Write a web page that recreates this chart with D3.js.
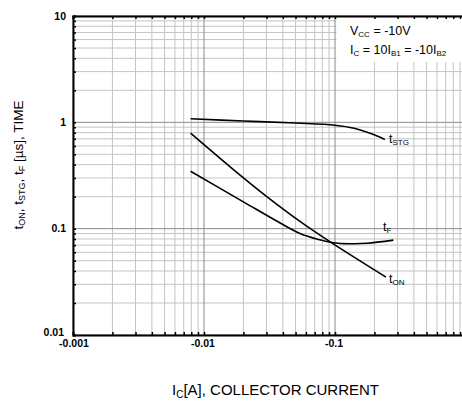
<!DOCTYPE html>
<html>
<head>
<meta charset="utf-8">
<script src="https://cdn.jsdelivr.net/npm/d3@7/dist/d3.min.js"></script>
<style>
  html, body { margin: 0; padding: 0; background: #fff; }
  svg { display: block; font-family: Arial, "Liberation Sans", Helvetica, sans-serif; }
</style>
</head>
<body>
<svg id="chart" width="462" height="401"></svg>
<script>
// Collector current magnitude |Ic| [A] (axis labelled negative)
const xTickValues = [0.001, 0.01, 0.1];
const xTickLabels = ["-0.001", "-0.01", "-0.1"];
const yTickValues = [10, 1, 0.1, 0.01];
const yTickLabels = ["10", "1", "0.1", "0.01"];

// Curves: [|Ic| A, time µs]
const tSTG = [[0.0079, 1.08], [0.02, 1.03], [0.05, 0.985], [0.1, 0.94], [0.14, 0.88], [0.19, 0.78], [0.24, 0.69]];
const tON  = [[0.0079, 0.79], [0.016, 0.377], [0.03, 0.201], [0.055, 0.115], [0.0944, 0.0735], [0.245, 0.035]];
const tF   = [[0.0079, 0.347], [0.0206, 0.175], [0.035, 0.12], [0.054, 0.09], [0.075, 0.079], [0.097, 0.0738], [0.13, 0.0722], [0.175, 0.0728], [0.279, 0.078]];

const svg = d3.select("#chart");
const pL = 73, pT = 16, pB = 335, pR = 466;

const x = d3.scaleLog().domain([0.001, 1]).range([pL, pR]);
const y = d3.scaleLog().domain([0.01, 10]).range([pB, pT]);

function minors(lo, hi) {
  const out = [];
  for (let e = Math.round(Math.log10(lo)); e < Math.round(Math.log10(hi)); e++) {
    for (let m = 1; m <= 9; m++) out.push(m * Math.pow(10, e));
  }
  out.push(hi);
  return out;
}
const xGrid = minors(0.001, 1);
const yGrid = minors(0.01, 10);
const isMajor = v => Math.abs(Math.log10(v) - Math.round(Math.log10(v))) < 1e-9;

const g = svg.append("g");
g.selectAll(".vx").data(xGrid.filter(v => !isMajor(v))).join("line")
  .attr("x1", d => x(d)).attr("x2", d => x(d)).attr("y1", pT).attr("y2", pB)
  .attr("stroke", "#c4c4c4").attr("stroke-width", 1);
g.selectAll(".hy").data(yGrid.filter(v => !isMajor(v))).join("line")
  .attr("y1", d => y(d)).attr("y2", d => y(d)).attr("x1", pL).attr("x2", pR)
  .attr("stroke", "#c4c4c4").attr("stroke-width", 1);
// white box behind the annotation
g.append("rect").attr("x", x(0.1) + 1.5).attr("y", pT).attr("width", 140).attr("height", 46).attr("fill", "#fff");
g.selectAll(".vX").data(xGrid.filter(v => isMajor(v))).join("line")
  .attr("x1", d => x(d)).attr("x2", d => x(d)).attr("y1", pT).attr("y2", pB)
  .attr("stroke", "#8a8a8a").attr("stroke-width", 1);
g.selectAll(".hY").data(yGrid.filter(v => isMajor(v))).join("line")
  .attr("y1", d => y(d)).attr("y2", d => y(d)).attr("x1", pL).attr("x2", pR)
  .attr("stroke", "#8a8a8a").attr("stroke-width", 1);

const axB = d3.axisBottom(x).tickValues(xGrid).tickSize(-3).tickFormat("");
const axT = d3.axisTop(x).tickValues(xGrid).tickSize(-3).tickFormat("");
const axL = d3.axisLeft(y).tickValues(yGrid).tickSize(-3).tickFormat("");
function styleAxis(sel) {
  sel.select(".domain").attr("stroke", "#000").attr("stroke-width", 2);
  sel.selectAll(".tick line").attr("stroke", "#000").attr("stroke-width", 1.5);
}
svg.append("g").attr("transform", `translate(0,${pB})`).call(axB).call(styleAxis);
svg.append("g").attr("transform", `translate(0,${pT})`).call(axT).call(styleAxis);
svg.append("g").attr("transform", `translate(${pL},0)`).call(axL).call(styleAxis);

svg.append("g").selectAll("text").data(xTickValues).join("text")
  .attr("x", (d, i) => x(d) + (i === 0 ? 1 : -1)).attr("y", 347)
  .attr("text-anchor", "middle").attr("font-size", 10.5).attr("font-weight", "bold")
  .text((d, i) => xTickLabels[i]);
svg.append("g").selectAll("text").data(yTickValues).join("text")
  .attr("x", (d, i) => i === 3 ? 64 : 66).attr("y", (d, i) => y(d) + (i === 3 ? 1 : 3.5))
  .attr("text-anchor", "end").attr("font-size", 10.5).attr("font-weight", "bold")
  .text((d, i) => yTickLabels[i]);

const line = d3.line().x(d => x(d[0])).y(d => y(d[1])).curve(d3.curveCatmullRom.alpha(0.5));
[tSTG, tON, tF].forEach(s => {
  svg.append("path").datum(s).attr("d", line).attr("fill", "none")
    .attr("stroke", "#000").attr("stroke-width", 1.6);
});

function richText(sel, parts, size, subSize) {
  parts.forEach(p => {
    const t = sel.append("tspan").text(p[0]);
    if (p[1]) t.attr("font-size", subSize).attr("baseline-shift", "-25%");
    else t.attr("font-size", size);
  });
  return sel;
}

richText(svg.append("text").attr("x", 389).attr("y", 143), [["t", false], ["STG", true]], 12.5, 8);
richText(svg.append("text").attr("x", 383).attr("y", 231), [["t", false], ["F", true]], 12.5, 8);
richText(svg.append("text").attr("x", 389).attr("y", 283), [["t", false], ["ON", true]], 12.5, 8);

richText(svg.append("text").attr("x", 350).attr("y", 35), [["V", false], ["CC", true], [" = -10V", false]], 12.5, 8);
richText(svg.append("text").attr("x", 350).attr("y", 54), [["I", false], ["C", true], [" = 10I", false], ["B1", true], [" = -10I", false], ["B2", true]], 12.5, 8);

richText(svg.append("text").attr("x", 172).attr("y", 395), [["I", false], ["C", true], ["[A], COLLECTOR CURRENT", false]], 15, 10);
richText(svg.append("text").attr("transform", "translate(23,165) rotate(-90)").attr("text-anchor", "middle"),
  [["t", false], ["ON", true], [", t", false], ["STG", true], [", t", false], ["F", true], [" [µs], TIME", false]], 13.5, 9);
</script>
</body>
</html>
